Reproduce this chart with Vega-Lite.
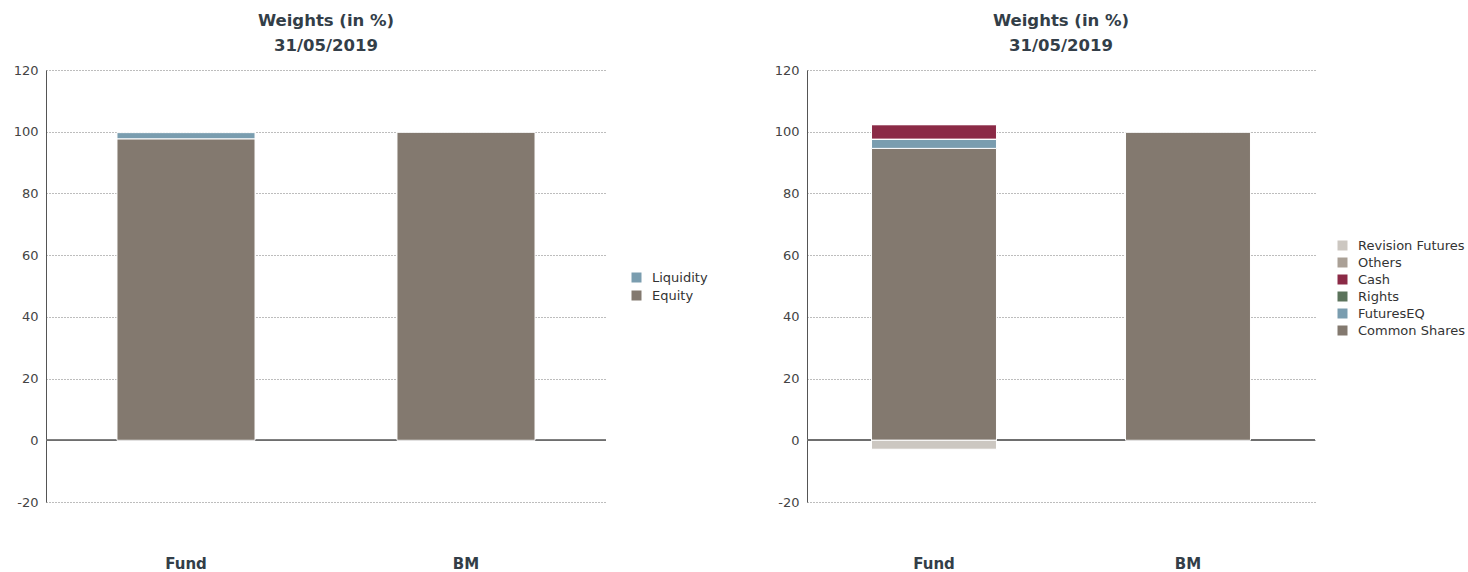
{
  "$schema": "https://vega.github.io/schema/vega-lite/v6.json",
  "padding": {"left": 5, "top": 12, "right": 0, "bottom": 0},
  "spacing": 58,
  "config": {
    "font": "DejaVu Sans",
    "view": {"stroke": null},
    "title": {"fontSize": 16.5, "fontWeight": "bold", "color": "#333e48", "lineHeight": 25, "offset": 10, "anchor": "middle"}
  },
  "datasets": {
    "left": [
      {"series": "Fund", "type": "Equity", "value": 97.7},
      {"series": "Fund", "type": "Liquidity", "value": 2.0},
      {"series": "BM", "type": "Equity", "value": 99.8}
    ],
    "right": [
      {"series": "Fund", "type": "Common Shares", "value": 94.6},
      {"series": "Fund", "type": "FuturesEQ", "value": 3.0},
      {"series": "Fund", "type": "Rights", "value": 0},
      {"series": "Fund", "type": "Cash", "value": 4.7},
      {"series": "Fund", "type": "Others", "value": 0},
      {"series": "Fund", "type": "Revision Futures", "value": -2.9},
      {"series": "BM", "type": "Common Shares", "value": 99.8}
    ]
  },
  "resolve": {"scale": {"color": "independent", "y": "independent", "x": "independent"}, "legend": {"color": "independent"}},
  "hconcat": [
    {
      "width": 560,
      "height": 432,
      "title": {"text": ["Weights (in %)", "31/05/2019"]},
      "data": {"name": "left"},
      "transform": [{"calculate": "indexof(['Equity','Liquidity'], datum.type)", "as": "stackorder"}],
      "layer": [
        {
          "mark": {"type": "rule", "color": "#6e6e6e", "strokeWidth": 1.5},
          "encoding": {"y": {"datum": 0, "type": "quantitative"}}
        },
        {
          "mark": {"type": "bar", "stroke": "white", "strokeWidth": 1},
          "encoding": {
            "x": {
              "field": "series", "type": "nominal", "sort": ["Fund", "BM"],
              "scale": {"paddingInner": 0.507, "paddingOuter": 0.2535},
              "axis": {"title": null, "labelAngle": 0, "domain": false, "ticks": false, "labelPadding": 54, "labelFontWeight": "bold", "labelFontSize": 15, "labelColor": "#333e48"}
            },
            "y": {
              "field": "value", "type": "quantitative", "stack": "zero",
              "scale": {"domain": [-20, 120], "nice": false},
              "axis": {"title": null, "values": [-20, 0, 20, 40, 60, 80, 100, 120], "labelExpr": "replace(datum.label, '\u2212', '-')", "grid": true, "gridDash": [1, 2], "gridColor": "#7a7a7a", "ticks": false, "domainColor": "#555555", "labelPadding": 8, "labelFontSize": 13, "labelColor": "#444444", "minExtent": 41, "maxExtent": 41}
            },
            "color": {
              "field": "type", "type": "nominal",
              "scale": {"domain": ["Liquidity", "Equity"], "range": ["#7a9daf", "#83796f"]},
              "legend": {"title": null, "orient": "none", "legendX": 584, "legendY": 201, "labelFontSize": 13, "labelColor": "#333333", "symbolType": "square", "symbolSize": 100, "symbolStrokeWidth": 0, "rowPadding": 4, "labelOffset": 9}
            },
            "order": {"field": "stackorder", "type": "quantitative"}
          }
        }
      ]
    },
    {
      "width": 508,
      "height": 432,
      "title": {"text": ["Weights (in %)", "31/05/2019"]},
      "data": {"name": "right"},
      "transform": [{"calculate": "indexof(['Common Shares','FuturesEQ','Rights','Cash','Others','Revision Futures'], datum.type)", "as": "stackorder"}],
      "layer": [
        {
          "mark": {"type": "rule", "color": "#6e6e6e", "strokeWidth": 1.5},
          "encoding": {"y": {"datum": 0, "type": "quantitative"}}
        },
        {
          "mark": {"type": "bar", "stroke": "white", "strokeWidth": 1},
          "encoding": {
            "x": {
              "field": "series", "type": "nominal", "sort": ["Fund", "BM"],
              "scale": {"paddingInner": 0.508, "paddingOuter": 0.254},
              "axis": {"title": null, "labelAngle": 0, "domain": false, "ticks": false, "labelPadding": 54, "labelFontWeight": "bold", "labelFontSize": 15, "labelColor": "#333e48"}
            },
            "y": {
              "field": "value", "type": "quantitative", "stack": "zero",
              "scale": {"domain": [-20, 120], "nice": false},
              "axis": {"title": null, "values": [-20, 0, 20, 40, 60, 80, 100, 120], "labelExpr": "replace(datum.label, '\u2212', '-')", "grid": true, "gridDash": [1, 2], "gridColor": "#7a7a7a", "ticks": false, "domainColor": "#555555", "labelPadding": 8, "labelFontSize": 13, "labelColor": "#444444", "minExtent": 41, "maxExtent": 41}
            },
            "color": {
              "field": "type", "type": "nominal",
              "scale": {"domain": ["Revision Futures", "Others", "Cash", "Rights", "FuturesEQ", "Common Shares"], "range": ["#ccc7c1", "#aaa096", "#8b2a46", "#5b735b", "#7a9daf", "#83796f"]},
              "legend": {"title": null, "orient": "none", "legendX": 529, "legendY": 169, "labelFontSize": 13, "labelColor": "#333333", "symbolType": "square", "symbolSize": 100, "symbolStrokeWidth": 0, "rowPadding": 3, "labelOffset": 9}
            },
            "order": {"field": "stackorder", "type": "quantitative"}
          }
        }
      ]
    }
  ]
}
